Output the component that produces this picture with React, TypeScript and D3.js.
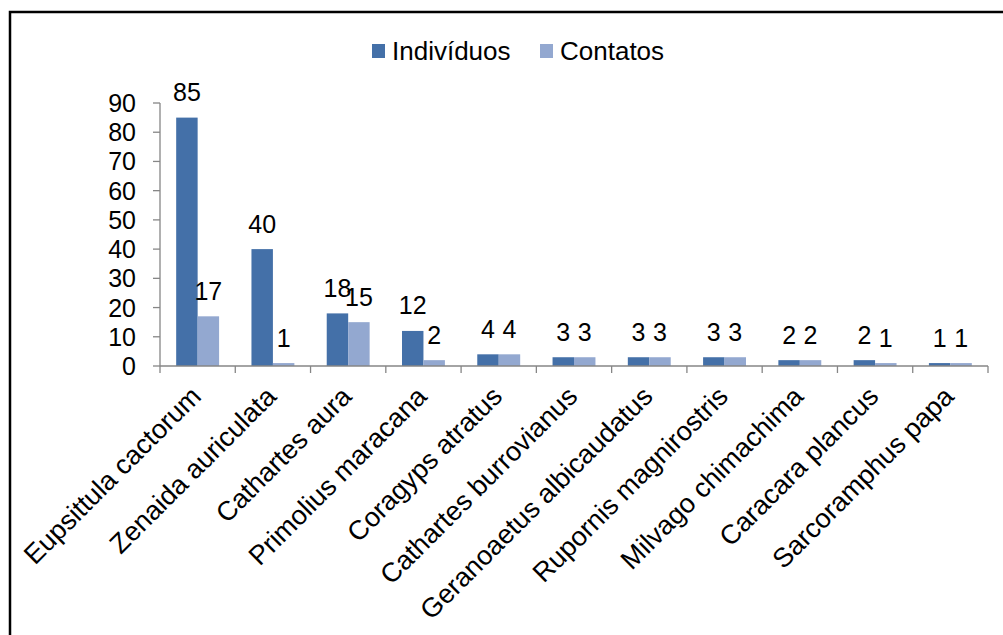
import React from "react";
import * as d3 from "d3";

const categories = [
  "Eupsittula cactorum",
  "Zenaida auriculata",
  "Cathartes aura",
  "Primolius maracana",
  "Coragyps atratus",
  "Cathartes burrovianus",
  "Geranoaetus albicaudatus",
  "Rupornis magnirostris",
  "Milvago chimachima",
  "Caracara plancus",
  "Sarcoramphus papa",
];
const individuos = [85, 40, 18, 12, 4, 3, 3, 3, 2, 2, 1];
const contatos = [17, 1, 15, 2, 4, 3, 3, 3, 2, 1, 1];
const seriesNames = ["Indivíduos", "Contatos"];
const seriesColors = ["#4470a8", "#93a8d0"];
const yTicks = [0, 10, 20, 30, 40, 50, 60, 70, 80, 90];

const W = 1003;
const H = 635;
const FONT = "'Liberation Sans', Arial, sans-serif";

export default function App() {
  const x0 = 160, x1 = 988, yTop = 103, yBot = 366;
  const x = d3.scaleBand<string>().domain(categories).range([x0, x1]).paddingInner(0).paddingOuter(0);
  const bw = x.bandwidth();
  const groupW = bw * 0.57;
  const inner = d3.scaleBand<number>().domain([0, 1]).range([0, groupW]);
  const y = d3.scaleLinear().domain([0, 90]).range([yBot, yTop]);
  const series = [individuos, contatos];
  const boundaries = d3.range(categories.length + 1).map((i) => x0 + i * bw);

  return (
    <svg width={W} height={H} style={{ position: "absolute", left: 0, top: 0, background: "#fff" }} fontFamily={FONT}>
      <rect x={0} y={0} width={W} height={H} fill="#fff" />
      {/* frame */}
      <path d={`M10,${H} L10,12 L${W},12`} fill="none" stroke="#000" strokeWidth={2.5} />

      {/* legend */}
      {seriesNames.map((n, i) => {
        const lx = i === 0 ? 372 : 540;
        return (
          <g key={n}>
            <rect x={lx} y={44} width={13} height={14} fill={seriesColors[i]} />
            <text x={lx + 20} y={59.5} fontSize={26} fill="#000">{n}</text>
          </g>
        );
      })}

      {/* bars */}
      {categories.map((c, ci) => {
        const gx = (x(c) as number) + (bw - groupW) / 2;
        return (
          <g key={c}>
            {series.map((s, si) => {
              const bx = gx + (inner(si) as number);
              const v = s[ci];
              return (
                <g key={si}>
                  <rect x={bx} y={y(v)} width={inner.bandwidth()} height={yBot - y(v)} fill={seriesColors[si]} />
                  <text x={bx + inner.bandwidth() / 2} y={y(v) - 16.5} fontSize={25} textAnchor="middle" fill="#000">{v}</text>
                </g>
              );
            })}
          </g>
        );
      })}

      {/* y axis */}
      <line x1={x0} x2={x0} y1={yTop} y2={yBot} stroke="#868686" strokeWidth={1.3} />
      {yTicks.map((t) => (
        <g key={t}>
          <line x1={x0 - 7} x2={x0} y1={y(t)} y2={y(t)} stroke="#868686" strokeWidth={1.3} />
          <text x={136} y={y(t) + 9} fontSize={25} textAnchor="end" fill="#000">{t}</text>
        </g>
      ))}

      {/* x axis */}
      <line x1={x0} x2={x1} y1={yBot} y2={yBot} stroke="#868686" strokeWidth={1.3} />
      {boundaries.map((bx, i) => (
        <line key={i} x1={bx} x2={bx} y1={yBot} y2={yBot + 7} stroke="#868686" strokeWidth={1.3} />
      ))}
      {categories.map((c) => {
        const cx = (x(c) as number) + bw / 2;
        return (
          <text key={c} transform={`translate(${cx + 5},${398}) rotate(-45)`} fontSize={27} textAnchor="end" fill="#000">{c}</text>
        );
      })}
    </svg>
  );
}
